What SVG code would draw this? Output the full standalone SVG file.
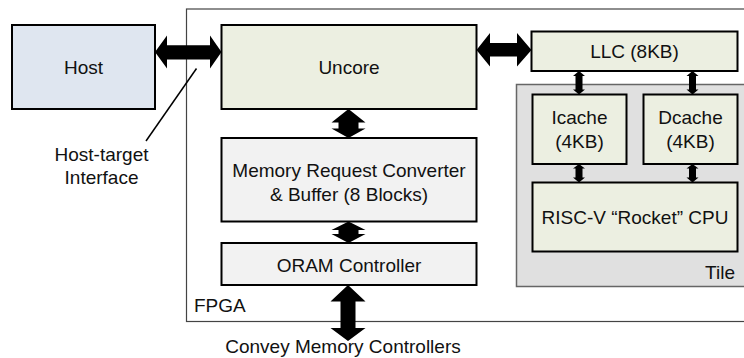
<svg xmlns="http://www.w3.org/2000/svg" width="744" height="358" viewBox="0 0 744 358">
  <style>
    .box { stroke: #000; stroke-width: 2; }
    .blue { fill: #dfe6f0; }
    .green { fill: #ecefe1; }
    .gray { fill: #f2f2f2; }
    .label { font-family: "Liberation Sans", Arial, sans-serif; font-size: 19px; fill: #111; text-anchor: middle; }
    .plain { font-family: "Liberation Sans", Arial, sans-serif; font-size: 19px; fill: #111; }
    .arrow { fill: #000; stroke: none; }
  </style>

  <rect width="744" height="358" fill="#fff"/>

  <!-- FPGA region -->
  <g id="fpga">
    <rect x="186.5" y="9" width="570" height="312.5" fill="none" stroke="#444" stroke-width="1.2"/>
    <text class="plain" x="194" y="312">FPGA</text>
  </g>

  <!-- Tile region -->
  <g id="tile">
    <rect x="516.5" y="84.5" width="240" height="202" fill="#e0e0e0" stroke="#666" stroke-width="1.5"/>
    <text class="plain" x="735" y="279" text-anchor="end">Tile</text>
  </g>

  <g id="host">
    <rect class="box blue" x="12" y="25" width="143" height="84"/>
    <text class="label" x="83.5" y="74">Host</text>
  </g>

  <g id="uncore">
    <rect class="box green" x="221.5" y="25" width="255" height="84"/>
    <text class="label" x="349" y="74">Uncore</text>
  </g>

  <g id="mem-converter">
    <rect class="box gray" x="221.5" y="138" width="255" height="83.5"/>
    <text class="label" x="349" y="177">Memory Request Converter</text>
    <text class="label" x="349" y="201">&amp; Buffer (8 Blocks)</text>
  </g>

  <g id="oram">
    <rect class="box gray" x="221.5" y="243" width="255" height="42"/>
    <text class="label" x="349" y="271.5">ORAM Controller</text>
  </g>

  <g id="llc">
    <rect class="box green" x="531.5" y="31.5" width="206" height="39.5"/>
    <text class="label" x="634.5" y="58">LLC (8KB)</text>
  </g>

  <g id="icache">
    <rect class="box green" x="532.5" y="94.5" width="94" height="69.5"/>
    <text class="label" x="579.5" y="124">Icache</text>
    <text class="label" x="579.5" y="148">(4KB)</text>
  </g>

  <g id="dcache">
    <rect class="box green" x="643.5" y="94.5" width="94" height="69.5"/>
    <text class="label" x="690.5" y="124">Dcache</text>
    <text class="label" x="690.5" y="148">(4KB)</text>
  </g>

  <g id="cpu">
    <rect class="box green" x="532.5" y="182.5" width="205" height="69"/>
    <text class="label" x="635" y="224">RISC-V “Rocket” CPU</text>
  </g>

  <g id="convey">
    <text class="label" x="343" y="353">Convey Memory Controllers</text>
  </g>

  <g id="host-target">
    <text class="label" x="101.5" y="161">Host-target</text>
    <text class="label" x="101.5" y="184">Interface</text>
  </g>

  <!-- connectors -->
  <g id="connectors">
    <!-- Host <-> Uncore -->
    <polygon class="arrow" points="155,52 167,35.5 167,45.3 210,45.3 210,35.5 221.5,52 210,68.5 210,59.5 167,59.5 167,68.5"/>
    <!-- Uncore <-> LLC -->
    <polygon class="arrow" points="476.5,50 490,33 490,43 517,43 517,33 531.5,50 517,66.5 517,56.5 490,56.5 490,66.5"/>
    <!-- Uncore <-> Memory Request Converter -->
    <polygon class="arrow" points="348.5,109 365.5,122.5 358.5,122.5 358.5,128.5 365.5,128.5 348.5,138 331.5,128.5 338.5,128.5 338.5,122.5 331.5,122.5"/>
    <!-- Memory Request Converter <-> ORAM -->
    <polygon class="arrow" points="348.5,221.5 365.5,230 358.5,230 358.5,234 365.5,234 348.5,243 331.5,234 338.5,234 338.5,230 331.5,230"/>
    <!-- ORAM <-> Convey -->
    <polygon class="arrow" points="348,285 365.5,301.5 355.5,301.5 355.5,328 365.5,328 348,341 330.5,328 340.5,328 340.5,301.5 330.5,301.5"/>
    <!-- LLC <-> Icache -->
    <polygon class="arrow" points="579,71 585,76 582.5,76 582.5,89.5 585,89.5 579,94.5 573,89.5 575.5,89.5 575.5,76 573,76"/>
    <!-- LLC <-> Dcache -->
    <polygon class="arrow" points="692.5,71 698.5,76 696,76 696,89.5 698.5,89.5 692.5,94.5 686.5,89.5 689,89.5 689,76 686.5,76"/>
    <!-- Icache <-> CPU -->
    <polygon class="arrow" points="579,164 585,168.5 582.5,168.5 582.5,177.5 585,177.5 579,182.5 573,177.5 575.5,177.5 575.5,168.5 573,168.5"/>
    <!-- Dcache <-> CPU -->
    <polygon class="arrow" points="692.5,164 698.5,168.5 696,168.5 696,177.5 698.5,177.5 692.5,182.5 686.5,177.5 689,177.5 689,168.5 686.5,168.5"/>
    <!-- Host-target interface pointer -->
    <line x1="196.5" y1="68.5" x2="146" y2="141" stroke="#000" stroke-width="1.5"/>
  </g>
</svg>
